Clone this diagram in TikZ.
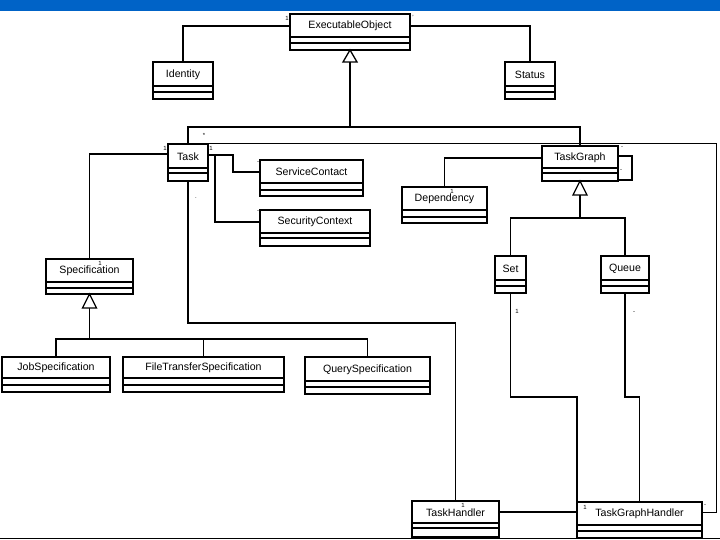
\documentclass[tikz,border=0pt]{standalone}
\usepackage{fontspec}
\setmainfont{Liberation Sans}
\definecolor{barblue}{RGB}{0,99,199}
\tikzset{
  clsbox/.style={draw, line width=1.5pt, inner sep=0pt, outer sep=0pt, fill=white},
  clsdiv/.style={line width=1.3pt},
  clstxt/.style={font=\fontsize{10.6}{12}\selectfont, inner sep=0pt},
  assoc/.style={line width=1.1pt},
  thinassoc/.style={line width=1pt},
  gen/.style={line width=1.9pt},
  tri/.style={line width=1.3pt, fill=white, line join=miter},
  mult/.style={font=\fontsize{6}{6}\selectfont, inner sep=0pt},
}
\newcommand\classbox[8]{%
  \node[clsbox, anchor=north west, minimum width={#4-#2}, minimum height={#5-#3}] (#1) at (#2,#3) {};
  \draw[clsdiv] (#2,#6) -- (#4,#6);
  \draw[clsdiv] (#2,#7) -- (#4,#7);
  \node[clstxt] (#1t) at ({(#2+#4)/2},{(#3+#6)/2+0.5}) {#8};
}
\begin{document}
\begin{tikzpicture}[x=1pt,y=-1pt]
\useasboundingbox (0,0) rectangle (720,540);
\fill[barblue] (0,0) rectangle (720,11);

\classbox{eo}{290}{14}{410}{50}{37}{43}{ExecutableObject}
\classbox{identity}{153}{62}{213}{99}{86}{92}{Identity}
\classbox{status}{505}{62}{555}{99}{86}{92}{Status}
\classbox{task}{168}{144}{208}{181}{168}{173}{Task}
\classbox{sc}{260}{160}{363}{196}{183}{190}{ServiceContact}
\classbox{secctx}{260}{210}{370}{246}{233}{238}{SecurityContext}
\classbox{tg}{542}{146}{618}{181}{168}{173}{TaskGraph}
\classbox{dep}{402}{187}{487}{223}{210}{217}{Dependency}
\classbox{set}{495}{256}{526}{293}{280}{286}{Set}
\classbox{queue}{601}{256}{649}{293}{280}{286}{Queue}
\classbox{spec}{46}{259}{133}{294}{282}{288}{Specification}
\classbox{job}{2}{357}{110}{392}{378}{385}{JobSpecification}
\classbox{ft}{123}{357}{284}{392}{378}{385}{FileTransferSpecification}
\classbox{qs}{305}{357}{430}{394}{381}{387}{QuerySpecification}
\classbox{th}{412}{501}{499}{537}{523}{528}{TaskHandler}
\classbox{tgh}{577}{502}{702}{538}{525}{531}{TaskGraphHandler}

% associations
\draw[assoc] (identity.north) |- (eo.west |- 0,26);
\draw[assoc] (eo.east |- 0,26) -| (status.north);
\coordinate (rc) at (716,144);
\draw[thinassoc] (task.north east) -- (rc) |- (tgh.east |- 0,512);
\draw[assoc] (task.west |- 0,154) -| (spec.north);
\coordinate (scb) at (233,155);
\draw[assoc] (task.east |- 0,155) -- (scb) |- (sc.west |- 0,172);
\coordinate (scc) at (215,155);
\draw[assoc] (scc) |- (secctx.west |- 0,222);
\draw[assoc] (task.south) |- (th.north |- 0,323) -- (th.north);
\draw[assoc] (th.east |- 0,512) -- (tgh.west |- 0,512);
\draw[assoc] (set.south) |- (tgh.north west |- 0,397) -- (tgh.north west);
\draw[assoc] (queue.south) |- (tgh.north |- 0,397) -- (tgh.north);
\coordinate (loop) at (632,156);
\draw[assoc] (tg.east |- 0,156) -- (loop) |- (tg.east |- 0,180);
\draw[assoc] (tg.west |- 0,158) -| (dep.north);

% generalizations
\draw[gen] ([yshift=-12pt]eo.south) -- (eo.south |- 0,127);
\draw[gen] (task.north) |- (tg.north |- 0,127) -- (tg.north);
\draw[tri] (eo.south) -- ++(-7,12) -- ++(14,0) -- cycle;

\draw[assoc] ([yshift=-14pt]tg.south) -- (tg.south |- 0,218);
\draw[assoc] (set.north) |- (queue.north |- 0,218) -- (queue.north);
\draw[tri] (tg.south) -- ++(-7,14) -- ++(14,0) -- cycle;

\draw[assoc] ([yshift=-14pt]spec.south) -- (spec.south |- 0,339);
\draw[assoc] (job.north) |- (qs.north |- 0,339) -- (qs.north);
\draw[assoc] (ft.north) -- (ft.north |- 0,339);
\draw[tri] (spec.south) -- ++(-7,14) -- ++(14,0) -- cycle;

% bottom rule
\coordinate (bl) at (0,538.5);
\coordinate (br) at (720,538.5);
\draw[line width=1.8pt] (bl) -- (br);

% multiplicities
\node[mult] (m1) at (287,18) {1};
\node[mult] (m2) at (413,17) {'};
\node[mult] (m3) at (204,135) {*};
\node[mult] (m4) at (165,148) {1};
\node[mult] (m5) at (211,148) {1};
\node[mult] (m6) at (196,198) {.};
\node[mult] (m7) at (100,263) {1};
\node[mult] (m8) at (452,191) {1};
\node[mult] (m9) at (517,311) {1};
\node[mult] (m10) at (634,313) {-};
\node[mult] (m11) at (463,505) {1};
\node[mult] (m12) at (585,507) {1};
\node[mult] (m13) at (705,506) {-};
\node[mult] (m14) at (622,148) {-};
\node[mult] (m15) at (621,171) {-};
\node[mult] (m16) at (258,163) {-};
\node[mult] (m17) at (258,212) {-};
\end{tikzpicture}
\end{document}
